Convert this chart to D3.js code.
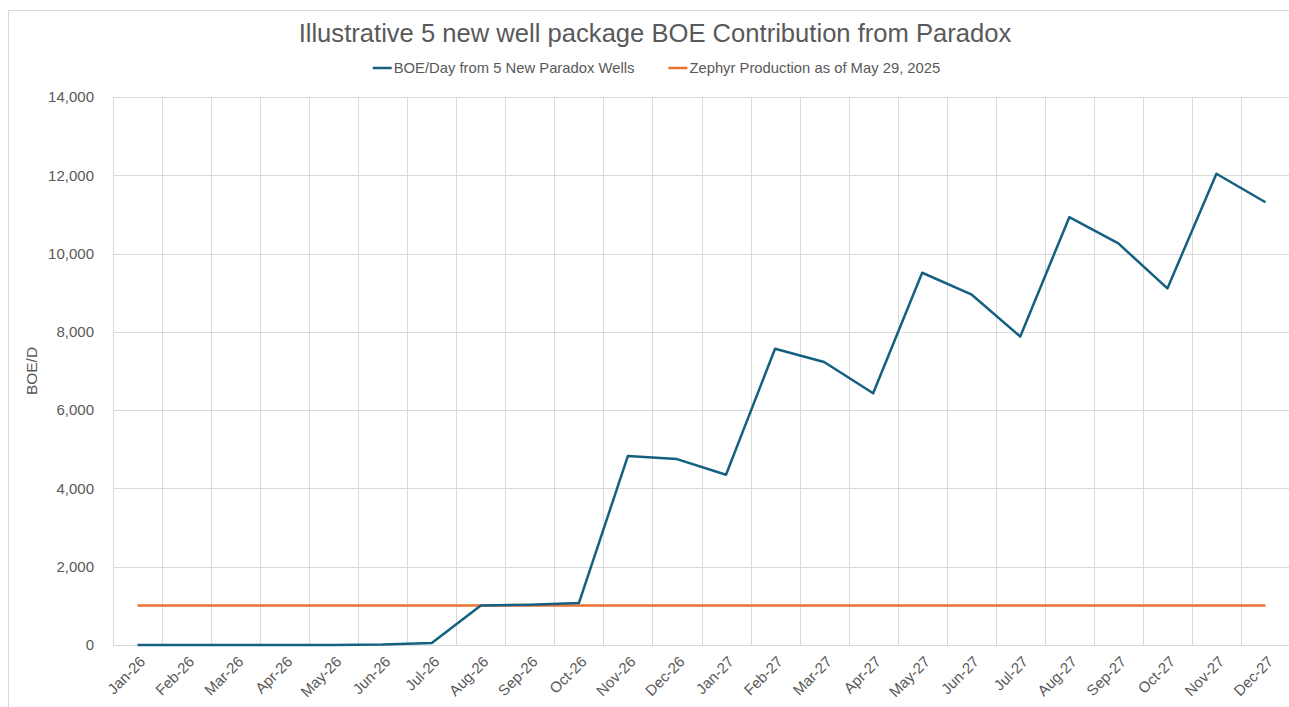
<!DOCTYPE html>
<html>
<head>
<meta charset="utf-8">
<script src="https://cdn.jsdelivr.net/npm/d3@7"></script>
<style>
  body { margin: 0; background: #fff; }
  text { font-family: "Liberation Sans", Arial, sans-serif; fill: #595959; }
</style>
</head>
<body>
<div id="chart"></div>
<script>
// months on the category axis
var months = ["Jan-26", "Feb-26", "Mar-26", "Apr-26", "May-26", "Jun-26",
  "Jul-26", "Aug-26", "Sep-26", "Oct-26", "Nov-26", "Dec-26",
  "Jan-27", "Feb-27", "Mar-27", "Apr-27", "May-27", "Jun-27",
  "Jul-27", "Aug-27", "Sep-27", "Oct-27", "Nov-27", "Dec-27"];

// BOE/Day from the 5 new wells
var newWells = [0, 0, 0, 0, 0, 10, 50, 1010, 1030, 1070, 4830, 4750,
  4350, 7570, 7230, 6430, 9510, 8960, 7880, 10930, 10260, 9110, 12040, 11310];

// current Zephyr production, flat
var zephyr = months.map(function() { return 1010; });

var yTicks = [0, 2000, 4000, 6000, 8000, 10000, 12000, 14000];

var seriesNames = ["BOE/Day from 5 New Paradox Wells", "Zephyr Production as of May 29, 2025"];
var colors = ["#156082", "#E97132"];

var width = 1289, height = 707;
var plot = { left: 113, right: 1290, top: 97, bottom: 645 };

var svg = d3.select("#chart").append("svg")
    .attr("width", width)
    .attr("height", height);

// chart frame
svg.append("rect")
    .attr("x", 8.5).attr("y", 10.5)
    .attr("width", 1300).attr("height", 720)
    .attr("fill", "none")
    .attr("stroke", "#d9d9d9");

var x = d3.scaleBand().domain(months).range([plot.left, plot.right]).padding(0);
var y = d3.scaleLinear().domain([0, 14000]).range([plot.bottom, plot.top]);
var cx = function(d) { return x(d) + x.bandwidth() / 2; };

// horizontal gridlines
svg.append("g").selectAll("line")
    .data(yTicks)
    .join("line")
    .attr("x1", plot.left).attr("x2", plot.right)
    .attr("y1", function(d) { return Math.round(y(d)) + 0.5; })
    .attr("y2", function(d) { return Math.round(y(d)) + 0.5; })
    .attr("stroke", "#d9d9d9")
    .attr("stroke-width", 1);

// vertical gridlines at category boundaries
var bounds = months.map(function(m) { return x(m); }).concat([plot.right]);
svg.append("g").selectAll("line")
    .data(bounds)
    .join("line")
    .attr("x1", function(d) { return Math.round(d) + 0.5; })
    .attr("x2", function(d) { return Math.round(d) + 0.5; })
    .attr("y1", plot.top).attr("y2", plot.bottom)
    .attr("stroke", "#d9d9d9")
    .attr("stroke-width", 1);

// y tick labels
svg.append("g").selectAll("text")
    .data(yTicks)
    .join("text")
    .attr("x", 94)
    .attr("y", function(d) { return y(d); })
    .attr("dy", "0.35em")
    .attr("text-anchor", "end")
    .style("font-size", "15px")
    .text(function(d) { return d3.format(",")(d); });

// x tick labels, rotated
svg.append("g").selectAll("text")
    .data(months)
    .join("text")
    .attr("transform", function(d) { return "translate(" + (cx(d) + 5) + "," + 659 + ") rotate(-45)"; })
    .attr("text-anchor", "end")
    .attr("dy", "0.35em")
    .style("font-size", "15px")
    .text(function(d) { return d; });

// y axis title
svg.append("text")
    .attr("transform", "translate(37," + ((plot.top + plot.bottom) / 2) + ") rotate(-90)")
    .attr("text-anchor", "middle")
    .style("font-size", "15.5px")
    .text("BOE/D");

// lines
var line = d3.line()
    .x(function(d, i) { return cx(months[i]); })
    .y(function(d) { return y(d); });

svg.append("path")
    .datum(zephyr)
    .attr("d", line)
    .attr("fill", "none")
    .attr("stroke", colors[1])
    .attr("stroke-width", 2.5);

svg.append("path")
    .datum(newWells)
    .attr("d", line)
    .attr("fill", "none")
    .attr("stroke", colors[0])
    .attr("stroke-width", 2.5)
    .attr("stroke-linejoin", "round");

// title
svg.append("text")
    .attr("x", 655)
    .attr("y", 42)
    .attr("text-anchor", "middle")
    .style("font-size", "25.6px")
    .text("Illustrative 5 new well package BOE Contribution from Paradox");

// legend
var legend = svg.append("g");
var lx = 0;
seriesNames.forEach(function(name, i) {
  var g = legend.append("g").attr("transform", "translate(" + lx + ",0)");
  g.append("line")
      .attr("x1", 0).attr("x2", 19)
      .attr("y1", 68).attr("y2", 68)
      .attr("stroke", colors[i])
      .attr("stroke-width", 2.5);
  var t = g.append("text")
      .attr("x", 21)
      .attr("y", 68)
      .attr("dy", "0.35em")
      .style("font-size", "14.8px")
      .style("font-family", "'Liberation Sans Narrow', 'Arial Narrow', sans-serif")
      .text(name);
  lx += 21 + t.node().getComputedTextLength() + 34;
});
var legW = lx - 34;
legend.attr("transform", "translate(" + (656.5 - legW / 2) + ",0)");
</script>
</body>
</html>
